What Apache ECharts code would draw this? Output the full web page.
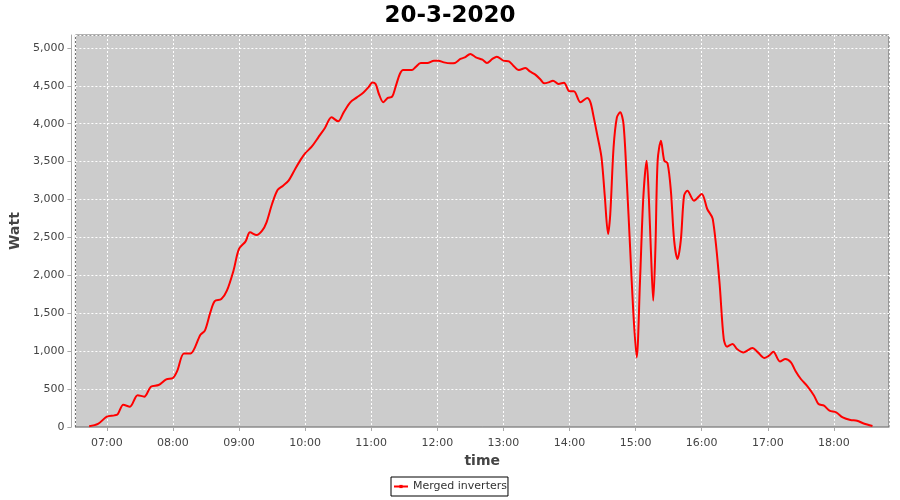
<!DOCTYPE html>
<html>
<head>
<meta charset="utf-8">
<script src="https://cdn.jsdelivr.net/npm/echarts@6/dist/echarts.min.js"></script>
<style>html,body{margin:0;padding:0;background:#fff;}#c{width:900px;height:500px;}</style>
</head>
<body>
<div id="c"></div>
<script>
const titleText = '20-3-2020';
const seriesName = 'Merged inverters';
const times = ['06:44','06:52','07:00','07:07','07:10','07:15','07:21','07:28','07:34','07:40','07:47','07:54','08:00','08:04','08:10','08:16','08:25','08:29','08:34','08:38','08:44','08:49','08:55','09:00','09:06','09:10','09:16','09:21','09:25','09:30','09:35','09:40','09:45','09:51','09:56','10:00','10:06','10:12','10:18','10:24','10:30','10:35','10:41','10:47','10:53','10:58','11:01','11:04','11:07','11:11','11:15','11:19','11:22','11:26','11:29','11:37','11:40','11:45','11:51','11:57','12:01','12:06','12:12','12:16','12:21','12:25','12:30','12:35','12:41','12:45','12:50','12:54','13:00','13:05','13:09','13:14','13:20','13:24','13:29','13:34','13:37','13:41','13:45','13:50','13:55','14:00','14:04','14:10','14:16','14:19','14:22','14:25','14:29','14:32','14:35','14:37','14:40','14:43','14:46','14:49','14:52','14:55','14:58','15:01','15:04','15:07','15:10','15:12','15:14','15:16','15:18','15:20','15:23','15:26','15:29','15:32','15:35','15:38','15:41','15:44','15:47','15:53','16:00','16:05','16:10','16:16','16:20','16:23','16:28','16:32','16:38','16:46','16:51','16:57','17:01','17:05','17:11','17:16','17:21','17:25','17:30','17:36','17:42','17:46','17:51','17:56','18:02','18:08','18:15','18:21','18:27','18:35'];
const watts = [10,40,136,153,171,294,268,420,400,531,554,628,646,743,971,971,1217,1270,1512,1660,1688,1798,2062,2348,2448,2567,2532,2589,2699,2941,3126,3183,3249,3403,3526,3609,3697,3820,3944,4084,4031,4150,4282,4347,4413,4489,4545,4524,4392,4282,4340,4357,4480,4656,4709,4709,4743,4801,4801,4832,4832,4809,4796,4801,4854,4875,4920,4875,4845,4801,4854,4884,4832,4822,4766,4709,4735,4690,4647,4577,4532,4545,4568,4524,4541,4427,4427,4282,4340,4282,4084,3865,3560,3050,2546,2810,3688,4084,4150,3997,3249,2369,1490,918,1930,3028,3513,3028,2282,1666,2369,3513,3776,3513,3477,3117,2457,2216,2457,3051,3117,2985,3073,2875,2744,1930,1161,1059,1095,1029,984,1042,984,910,940,993,865,897,852,743,633,536,413,303,281,215,193,127,92,83,47,13];
const yTicks = [0,500,1000,1500,2000,2500,3000,3500,4000,4500,5000];
const xRange = ['06:31:30','18:50:00'];

function toDate(s){const p=s.split(':').map(Number);return new Date(2020,2,20,p[0],p[1],p[2]||0).getTime();}
const data = times.map((t,i)=>[toDate(t), watts[i]]);

const chart = echarts.init(document.getElementById('c'), null, {renderer:'canvas'});
const font = 'DejaVu Sans';
chart.setOption({
  animation:false,
  backgroundColor:'#ffffff',
  title:{text:titleText,left:'center',top:0,textStyle:{fontFamily:font,fontSize:23,fontWeight:'bold',color:'#000'}},
  legend:{
    data:[seriesName],left:391,top:477,padding:[4,1,4,2],itemGap:5,itemWidth:14,itemHeight:4,
    borderColor:'#000',borderWidth:1,borderRadius:0,
    textStyle:{fontFamily:font,fontSize:11,color:'#333'}
  },
  grid:{left:75,right:11,top:35,bottom:73,show:true,backgroundColor:'#cccccc',borderColor:'#666666',borderWidth:1,containLabel:false},
  xAxis:{
    type:'time',min:toDate(xRange[0]),max:toDate(xRange[1]),
    splitNumber:12,minInterval:3600000,maxInterval:3600000,
    offset:3,
    name:'time',nameLocation:'middle',nameGap:22,
    nameTextStyle:{fontFamily:font,fontSize:14,fontWeight:'bold',color:'#444'},
    axisLine:{show:true,lineStyle:{color:'#aaaaaa',width:1}},
    axisTick:{show:true,length:4,lineStyle:{color:'#aaaaaa'}},
    axisLabel:{fontFamily:font,fontSize:11,color:'#444',margin:8,showMinLabel:false,showMaxLabel:false,
      formatter:function(v){const d=new Date(v);return String(d.getHours()).padStart(2,'0')+':'+String(d.getMinutes()).padStart(2,'0');}},
    splitLine:{show:true,lineStyle:{color:'#ffffff',type:[2,2],width:1}}
  },
  yAxis:{
    type:'value',min:0,max:5170,interval:500,
    offset:4,
    name:'Watt',nameLocation:'middle',nameRotate:90,nameGap:38,
    nameTextStyle:{fontFamily:font,fontSize:14,fontWeight:'bold',color:'#444'},
    axisLine:{show:true,lineStyle:{color:'#aaaaaa',width:1}},
    axisTick:{show:true,length:4,lineStyle:{color:'#aaaaaa'}},
    axisLabel:{fontFamily:font,fontSize:11,color:'#444',margin:7,showMaxLabel:false,
      formatter:function(v){return yTicks.indexOf(v)>=0? v.toLocaleString('en-US'):'';}},
    splitLine:{show:true,lineStyle:{color:'#ffffff',type:[2,2],width:1}}
  },
  series:[{
    name:seriesName,type:'line',data:data,smooth:0.3,
    showSymbol:false,symbol:'rect',symbolSize:3,
    lineStyle:{color:'#ff0000',width:2},itemStyle:{color:'#ff0000'}
  }]
});
</script>
</body>
</html>
